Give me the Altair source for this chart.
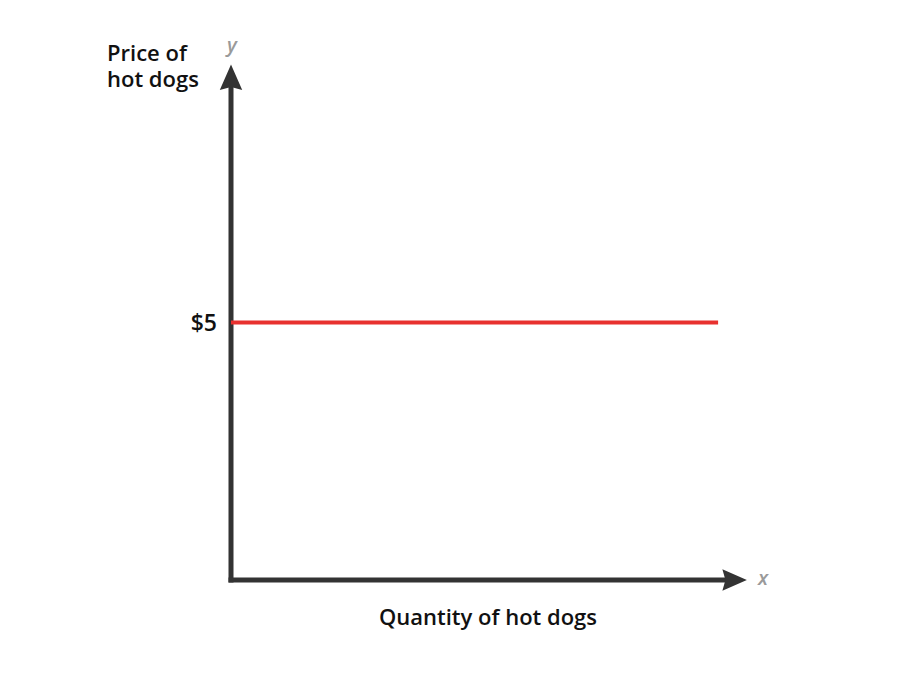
import altair as alt
import pandas as pd

# supply line: price stays at $5 across quantities
quantity = [0, 9.44]
price = [5, 5]

# axis arrows (data units, axes run 0..10)
axis_start = [0]
axis_end = [9.76]
origin = [0]

price_labels = ["$5"]
price_ticks = [5]

FONT = "Open Sans"
INK = "#111111"
AXIS = "#333333"
RED = "#e8312f"
LETTER = "#9a9a9a"

line_df = pd.DataFrame({"q0": [quantity[0]], "q1": [quantity[1]], "p": [price[0]]})
axes_df = pd.DataFrame({"s": axis_start, "e": axis_end, "o": origin, "top": [10], "mid": [5]})
tick_df = pd.DataFrame({"p": price_ticks, "o": origin, "label": price_labels})

xs = alt.Scale(domain=[0, 10], nice=False, zero=False)
ys = alt.Scale(domain=[0, 10], nice=False, zero=False)

base = alt.Chart(axes_df)

x_axis = base.mark_rule(color=AXIS, strokeWidth=5, strokeCap="square").encode(
    x=alt.X("s:Q", scale=xs, axis=None), x2="e:Q", y=alt.Y("o:Q", scale=ys, axis=None)
)
y_axis = base.mark_rule(color=AXIS, strokeWidth=5, strokeCap="square").encode(
    y=alt.Y("s:Q", scale=ys, axis=None), y2="e:Q", x=alt.X("o:Q", scale=xs, axis=None)
)

x_head = base.mark_point(
    shape="M1,0L-1,-0.88L-0.75,0L-1,0.88Z", size=600, filled=True, color=AXIS, opacity=1
).encode(x="e:Q", y="o:Q")
y_head = base.mark_point(
    shape="M0,-1L0.88,1L0,0.75L-0.88,1Z", size=650, filled=True, color=AXIS, opacity=1
).encode(y="e:Q", x="o:Q")

supply = alt.Chart(line_df).mark_rule(color=RED, strokeWidth=4).encode(
    x="q0:Q", x2="q1:Q", y="p:Q"
)

tick_text = alt.Chart(tick_df).mark_text(
    font=FONT, fontSize=23, fontWeight=600, color=INK, align="right", baseline="middle",
    dx=-14, dy=1
).encode(y="p:Q", x="o:Q", text="label:N")

title_font = dict(font=FONT, fontSize=22, fontWeight=600, color=INK, baseline="middle")

y_title_1 = base.mark_text(text="Price of", align="left", dx=-124, dy=-11, **title_font).encode(
    x="o:Q", y="top:Q"
)
y_title_2 = base.mark_text(text="hot dogs", align="left", dx=-124, dy=15, **title_font).encode(
    x="o:Q", y="top:Q"
)

x_title = base.mark_text(text="Quantity of hot dogs", align="center", dx=-1, dy=38, **title_font).encode(
    x="mid:Q", y="o:Q"
)

y_letter = base.mark_text(
    text="y", font=FONT, fontSize=20, fontStyle="italic", fontWeight=600, color=LETTER,
    align="center", baseline="middle", dx=1, dy=-19
).encode(x="o:Q", y="top:Q")

x_letter = base.mark_text(
    text="x", font=FONT, fontSize=20, fontStyle="italic", fontWeight=600, color=LETTER,
    align="center", baseline="middle", dx=16, dy=-1
).encode(x="top:Q", y="o:Q")

chart = (
    alt.layer(
        y_axis, x_axis, supply, x_head, y_head, tick_text,
        y_title_1, y_title_2, x_title, y_letter, x_letter,
    )
    .properties(
        width=516,
        height=515,
        autosize=alt.AutoSizeParams(type="none"),
        padding={"left": 223, "top": 57, "right": 140, "bottom": 80},
    )
    .configure_view(stroke=None)
)

chart.save("out.html", embed_options={"renderer": "svg", "actions": False})
